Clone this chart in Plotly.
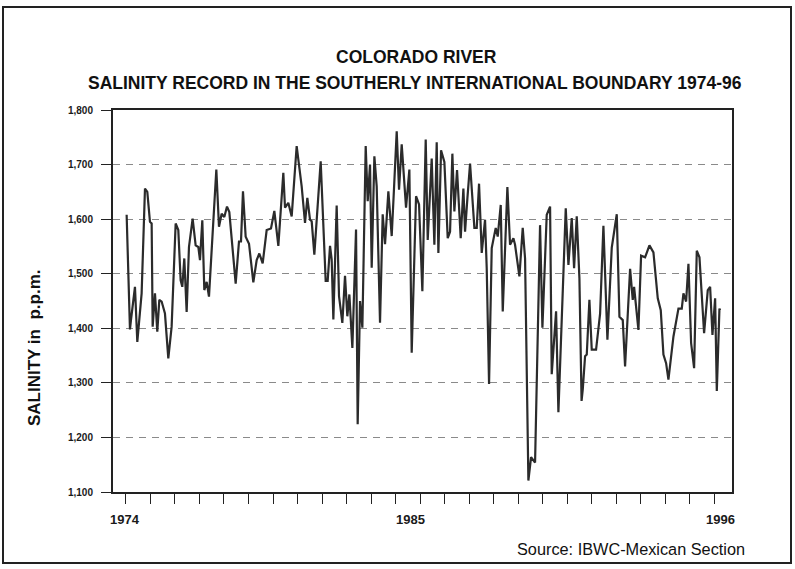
import plotly.graph_objects as go

# ---- data (decimal year, salinity ppm) ----
years = [
    1974.025, 1974.148, 1974.185, 1974.333, 1974.420, 1974.580, 1974.704, 1974.790, 1974.889, 1974.951,
    1974.988, 1975.074, 1975.160, 1975.235, 1975.321, 1975.444, 1975.568, 1975.691, 1975.840, 1975.938,
    1976.025, 1976.086, 1976.160, 1976.247, 1976.333, 1976.469, 1976.580, 1976.679, 1976.741, 1976.827,
    1976.901, 1976.988, 1977.074, 1977.235, 1977.346, 1977.444, 1977.543, 1977.642, 1977.741, 1977.827,
    1977.938, 1978.062, 1978.185, 1978.259, 1978.333, 1978.432, 1978.556, 1978.716, 1978.840, 1978.938,
    1979.062, 1979.210, 1979.370, 1979.494, 1979.642, 1979.827, 1979.889, 1980.012, 1980.136, 1980.321,
    1980.506, 1980.630, 1980.716, 1980.815, 1980.877, 1980.975, 1981.210, 1981.309, 1981.395, 1981.469,
    1981.556, 1981.617, 1981.679, 1981.802, 1981.889, 1982.012, 1982.111, 1982.197, 1982.272, 1982.383,
    1982.519, 1982.580, 1982.667, 1982.753, 1982.877, 1982.951, 1983.037, 1983.099, 1983.198, 1983.284,
    1983.407, 1983.506, 1983.593, 1983.716, 1983.840, 1983.926, 1984.025, 1984.111, 1984.210, 1984.370,
    1984.494, 1984.580, 1984.741, 1984.852, 1984.975, 1985.099, 1985.173, 1985.321, 1985.420, 1985.506,
    1985.568, 1985.667, 1985.790, 1985.914, 1986.000, 1986.086, 1986.160, 1986.259, 1986.395, 1986.494,
    1986.556, 1986.642, 1986.741, 1986.901, 1986.988, 1987.074, 1987.173, 1987.296, 1987.358, 1987.444,
    1987.543, 1987.691, 1987.765, 1987.877, 1987.951, 1988.123, 1988.222, 1988.346, 1988.407, 1988.568,
    1988.691, 1988.778, 1988.901, 1989.000, 1989.148, 1989.333, 1989.420, 1989.580, 1989.704, 1989.765,
    1989.926, 1990.012, 1990.198, 1990.284, 1990.383, 1990.506, 1990.593, 1990.691, 1990.790, 1990.870,
    1990.914, 1991.000, 1991.062, 1991.160, 1991.247, 1991.407, 1991.556, 1991.679, 1991.827, 1991.988,
    1992.173, 1992.272, 1992.395, 1992.481, 1992.667, 1992.765, 1992.815, 1992.975, 1993.074, 1993.222,
    1993.383, 1993.531, 1993.691, 1993.802, 1993.901, 1994.000, 1994.086, 1994.272, 1994.457, 1994.580,
    1994.642, 1994.741, 1994.827, 1994.926, 1995.037, 1995.136, 1995.235, 1995.407, 1995.543, 1995.630,
    1995.716, 1995.815, 1995.877, 1995.975, 1996.000,
]
salinity = [
    1608, 1398, 1415, 1476, 1375, 1464, 1656, 1650, 1595, 1592,
    1403, 1464, 1394, 1452, 1449, 1427, 1345, 1403, 1592, 1580,
    1488, 1476, 1528, 1430, 1549, 1601, 1552, 1549, 1525, 1598,
    1470, 1485, 1458, 1586, 1691, 1586, 1610, 1604, 1623, 1613,
    1555, 1482, 1559, 1559, 1651, 1568, 1555, 1484, 1525, 1537,
    1519, 1580, 1583, 1615, 1551, 1685, 1621, 1630, 1605, 1734,
    1660, 1593, 1639, 1599, 1596, 1535, 1706, 1581, 1487, 1487,
    1551, 1526, 1416, 1625, 1459, 1410, 1496, 1422, 1462, 1364,
    1581, 1224, 1450, 1401, 1734, 1633, 1700, 1511, 1715, 1660,
    1410, 1609, 1554, 1651, 1569, 1657, 1761, 1654, 1737, 1621,
    1691, 1355, 1642, 1627, 1468, 1746, 1562, 1711, 1553, 1741,
    1538, 1726, 1705, 1565, 1577, 1720, 1614, 1690, 1565, 1656,
    1577, 1638, 1702, 1584, 1584, 1665, 1538, 1599, 1510, 1298,
    1547, 1584, 1568, 1626, 1431, 1659, 1553, 1565, 1553, 1495,
    1584, 1528, 1121, 1164, 1154, 1589, 1401, 1608, 1623, 1316,
    1431, 1246, 1504, 1620, 1516, 1602, 1510, 1605, 1492, 1267,
    1288, 1349, 1352, 1452, 1361, 1361, 1427, 1588, 1379, 1548,
    1609, 1421, 1415, 1330, 1509, 1452, 1476, 1397, 1533, 1530,
    1552, 1539, 1455, 1433, 1352, 1336, 1306, 1385, 1436, 1436,
    1464, 1449, 1518, 1373, 1327, 1542, 1530, 1391, 1470, 1476,
    1388, 1455, 1285, 1436, 1433,
]

y_ticks = [1100, 1200, 1300, 1400, 1500, 1600, 1700, 1800]
y_ticktext = ["1,100", "1,200", "1,300", "1,400", "1,500", "1,600", "1,700", "1,800"]
x_labels = ["1974", "1985", "1996"]
x_label_pos = [1973.96, 1984.52, 1996.0]

title_1 = "COLORADO RIVER"
title_2 = "SALINITY RECORD IN THE SOUTHERLY INTERNATIONAL BOUNDARY 1974-96"
y_title = "SALINITY in\u00a0\u00a0p.p.m."
source = "Source: IBWC-Mexican Section"

FONT = "Liberation Sans, Arial, Helvetica, sans-serif"

fig = go.Figure()
fig.add_trace(go.Scatter(
    x=years, y=salinity, mode="lines",
    line=dict(color="#2b2b2b", width=2.2),
    showlegend=False, hoverinfo="x+y",
))

fig.update_layout(
    width=795, height=569,
    margin=dict(l=113, r=63, t=110, b=77),
    paper_bgcolor="white", plot_bgcolor="white",
    font=dict(family=FONT, color="#1a1a1a"),
    showlegend=False,
)

fig.update_xaxes(
    range=[1973.52, 1996.44],
    tickmode="linear", tick0=1974.0, dtick=0.9074,
    ticks="outside", ticklen=10, tickwidth=1.2, tickcolor="#222",
    showticklabels=False,
    showgrid=False, zeroline=False,
    showline=True, linecolor="#222", linewidth=2, mirror=True,
)
fig.update_yaxes(
    range=[1100, 1800],
    tickmode="array", tickvals=y_ticks, ticktext=y_ticktext,
    ticks="outside", ticklen=10, tickwidth=1.2, tickcolor="#222",
    tickfont=dict(family=FONT, size=10, color="#1a1a1a", weight="bold"),
    ticklabelstandoff=6,
    showgrid=True, gridcolor="#8a8a8a", gridwidth=1, griddash="7px,6px",
    zeroline=False,
    showline=True, linecolor="#222", linewidth=2, mirror=True,
)

ann = []
for lbl, pos in zip(x_labels, x_label_pos):
    ann.append(dict(x=pos, y=-0.0707, xref="x", yref="paper", text=lbl,
                    showarrow=False, xanchor="center", yanchor="middle",
                    font=dict(family=FONT, size=13, color="#1a1a1a", weight="bold")))
ann.append(dict(x=0.49, y=1.1387, xref="paper", yref="paper", text=title_1,
                showarrow=False, xanchor="center", yanchor="middle",
                font=dict(family=FONT, size=17.5, color="#111", weight="bold")))
ann.append(dict(x=0.488, y=1.0707, xref="paper", yref="paper", text=title_2,
                showarrow=False, xanchor="center", yanchor="middle",
                font=dict(family=FONT, size=17.5, color="#111", weight="bold")))
ann.append(dict(x=-0.126, y=0.377, xref="paper", yref="paper", text=y_title,
                showarrow=False, xanchor="center", yanchor="middle", textangle=-90,
                font=dict(family=FONT, size=17, color="#111", weight="bold")))
ann.append(dict(x=1.024, y=-0.150, xref="paper", yref="paper", text=source,
                showarrow=False, xanchor="right", yanchor="middle",
                font=dict(family=FONT, size=16.3, color="#111")))
fig.update_layout(annotations=ann)

# outer page frame of the scanned figure
fig.add_shape(type="rect", xref="paper", yref="paper",
              x0=(3 - 113) / 619, x1=(791 - 113) / 619,
              y0=(492 - 563) / 382, y1=(492 - 7) / 382,
              line=dict(color="#222", width=2), fillcolor="rgba(0,0,0,0)", layer="below")

fig.write_html("out.html",
               config={"displayModeBar": False},
               post_script="document.body.style.margin='0';document.body.style.padding='0';")
